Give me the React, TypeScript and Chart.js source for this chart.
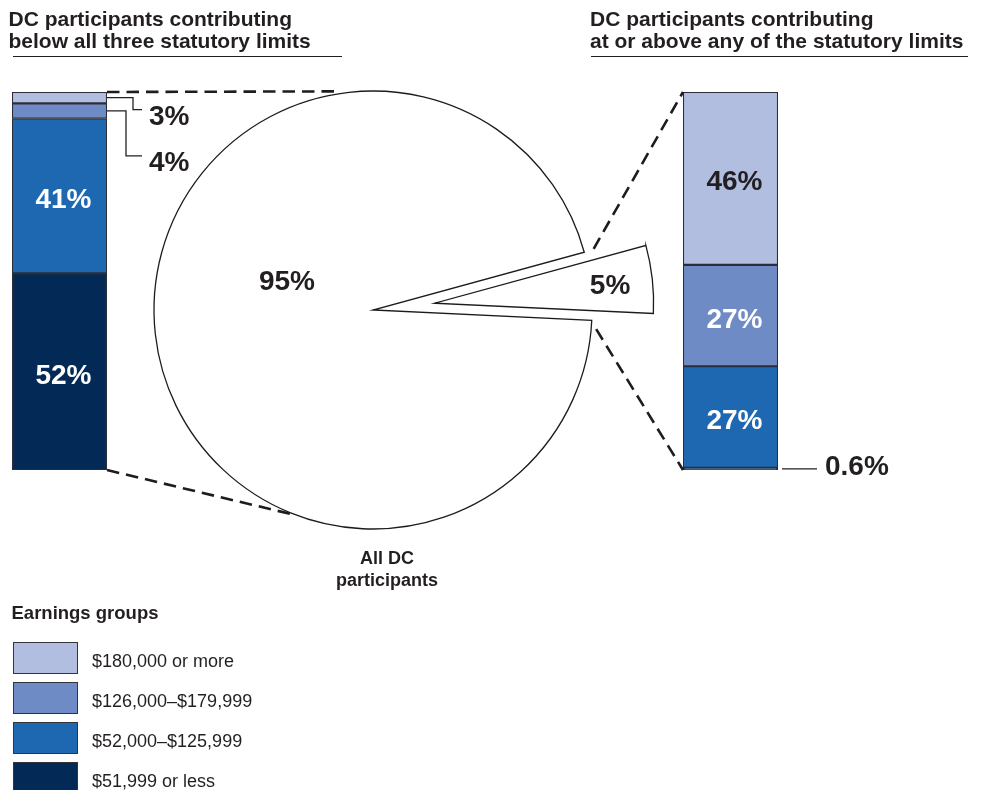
import React, { useEffect, useRef } from "react";
import { Chart, registerables } from "chart.js";

Chart.register(...registerables);

const W = 987;
const H = 790;

// Earnings groups, highest first (legend order)
const earningsGroups = ["$180,000 or more", "$126,000–$179,999", "$52,000–$125,999", "$51,999 or less"];
const groupColors = ["#b1bee0", "#6f8bc6", "#1e68b2", "#032a57"];

// Share of each earnings group (percent), same order as earningsGroups
const belowAllLimits = [3, 4, 41, 52];
const atOrAboveLimits = [46, 27, 27, 0.6];

// Split of all DC participants: at or above any limit, below all three limits
const participantGroups = ["At or above any of the statutory limits", "Below all three statutory limits"];
const participantShares = [5, 95];

const INK = "#231f20";
const FONT = '"Liberation Sans", Arial, Helvetica, sans-serif';
const DEG = Math.PI / 180;

// Plot geometry (page pixels)
const leftBarArea = { left: 12, right: 107, top: 92, bottom: 470 };
const rightBarArea = { left: 683, right: 778, top: 92, bottom: 470 };
const pieCenter = { x: 373, y: 310 };
const pieRadius = 219;
const pieRotation = 74.7;
const explodeDistance = 62;

type Callout = { elbow?: number; drop?: number };
const leftCallouts: Record<number, Callout> = { 0: { elbow: 26, drop: 12 }, 1: { elbow: 19, drop: 45 } };
const rightCallouts: Record<number, Callout> = { 3: {} };

function areaPadding(a: { left: number; right: number; top: number; bottom: number }) {
  return { left: a.left, top: a.top, right: W - a.right, bottom: H - a.bottom };
}

function centerPadding(cx: number, cy: number) {
  return { left: 0, top: 0, right: W - 2 * cx, bottom: H - 2 * cy };
}

function drawLabel(ctx: CanvasRenderingContext2D, text: string, x: number, capMid: number, size: number, color: string, align: CanvasTextAlign) {
  ctx.save();
  ctx.font = `bold ${size}px ${FONT}`;
  ctx.fillStyle = color;
  ctx.textAlign = align;
  ctx.textBaseline = "alphabetic";
  ctx.fillText(text, x, capMid + size * 0.358);
  ctx.restore();
}

function polar(cx: number, cy: number, angle: number, r: number) {
  return { x: cx + Math.cos(angle) * r, y: cy + Math.sin(angle) * r };
}

function barBounds(chart: Chart) {
  let top = Infinity, bottom = -Infinity, left = Infinity, right = -Infinity;
  chart.data.datasets.forEach((_, di) => {
    const el: any = chart.getDatasetMeta(di).data[0];
    const { x, y, base, width } = el.getProps(["x", "y", "base", "width"], true);
    top = Math.min(top, y, base);
    bottom = Math.max(bottom, y, base);
    left = Math.min(left, x - width / 2);
    right = Math.max(right, x + width / 2);
  });
  return { top, bottom, left, right };
}

function barLabelPlugin(callouts: Record<number, Callout>) {
  return {
    id: "barLabels",
    afterDatasetsDraw(chart: Chart) {
      const ctx = chart.ctx;
      chart.data.datasets.forEach((ds: any, di) => {
        const group: number = ds.groupIndex;
        const el: any = chart.getDatasetMeta(di).data[0];
        const { x, y, base, width } = el.getProps(["x", "y", "base", "width"], true);
        const cy = (Math.min(y, base) + Math.max(y, base)) / 2;
        const right = x + width / 2;
        const text = `${ds.data[0]}%`;
        const c = callouts[group];
        if (!c) {
          drawLabel(ctx, text, x + 4, cy + 2, 28, group === 0 ? INK : "#ffffff", "center");
          return;
        }
        ctx.save();
        ctx.strokeStyle = INK;
        ctx.lineWidth = 1.3;
        ctx.beginPath();
        if (c.elbow !== undefined) {
          const ex = right + c.elbow;
          const ty = cy + (c.drop || 0);
          ctx.moveTo(right, cy);
          ctx.lineTo(ex, cy);
          ctx.lineTo(ex, ty);
          ctx.lineTo(right + 35, ty);
          ctx.stroke();
          ctx.restore();
          drawLabel(ctx, text, right + 42, ty + 5, 28, INK, "left");
        } else {
          ctx.moveTo(right + 4, cy);
          ctx.lineTo(right + 39, cy);
          ctx.stroke();
          ctx.restore();
          drawLabel(ctx, text, right + 47, cy - 4, 28, INK, "left");
        }
      });
    },
  };
}

function barConfig(values: number[], area: any, callouts: Record<number, Callout>): any {
  const total = values.reduce((s, v) => s + v, 0);
  const datasets = earningsGroups
    .map((g, i) => ({
      label: g,
      groupIndex: i,
      data: [values[i]],
      backgroundColor: groupColors[i],
      borderColor: "#2b2e38",
      borderWidth: 1.4,
      borderSkipped: false,
      categoryPercentage: 1,
      barPercentage: 1,
      stack: "share",
    }))
    .reverse();
  return {
    type: "bar",
    data: { labels: [""], datasets },
    options: {
      responsive: false,
      animation: false,
      events: [],
      layout: { padding: areaPadding(area) },
      plugins: { legend: { display: false }, tooltip: { enabled: false } },
      scales: {
        x: { display: false, stacked: true },
        y: { display: false, stacked: true, min: 0, max: total },
      },
    },
    plugins: [barLabelPlugin(callouts)],
  };
}

function sliceAngles() {
  const total = participantShares.reduce((s, v) => s + v, 0);
  const start = (pieRotation - 90) * DEG;
  const span = (participantShares[0] / total) * 2 * Math.PI;
  return { start, end: start + span, mid: start + span / 2 };
}

function pieConfig(visibleIndex: number, center: { x: number; y: number }, extra: any[]): any {
  return {
    type: "pie",
    data: {
      labels: participantGroups,
      datasets: [
        {
          data: participantShares,
          backgroundColor: participantShares.map((_, i) => (i === visibleIndex ? "#ffffff" : "rgba(0,0,0,0)")),
          borderColor: participantShares.map((_, i) => (i === visibleIndex ? "#1c1c1c" : "rgba(0,0,0,0)")),
          borderWidth: participantShares.map((_, i) => (i === visibleIndex ? 1.3 : 0)),
          borderJoinStyle: "miter",
          borderAlign: "center",
          hoverOffset: 0,
        },
      ],
    },
    options: {
      responsive: false,
      animation: false,
      events: [],
      radius: pieRadius,
      rotation: pieRotation,
      layout: { padding: centerPadding(center.x, center.y) },
      plugins: { legend: { display: false }, tooltip: { enabled: false } },
    },
    plugins: extra,
  };
}

function mainPiePlugin(getBars: () => Chart[]) {
  return {
    id: "mainPie",
    afterDatasetsDraw(chart: Chart) {
      const ctx = chart.ctx;
      const meta = chart.getDatasetMeta(0);
      const slice: any = meta.data[0];
      const { x: cx, y: cy, startAngle, endAngle, outerRadius: r } = slice.getProps(
        ["x", "y", "startAngle", "endAngle", "outerRadius"],
        true
      );
      // share label of the larger slice
      drawLabel(ctx, `${participantShares[1]}%`, cx - 0.393 * r, cy - 0.137 * r, 28, INK, "center");

      // dashed connectors to the two breakdown bars
      const [leftBar, rightBar] = getBars();
      const lb = barBounds(leftBar);
      const rb = barBounds(rightBar);
      const segs = [
        [{ x: lb.right, y: lb.top }, polar(cx, cy, -100 * DEG, r + 3)],
        [{ x: lb.right, y: lb.bottom }, polar(cx, cy, 112 * DEG, r + 1)],
        [polar(cx, cy, startAngle - 0.2 * DEG, r + 10), { x: rb.left, y: rb.top }],
        [polar(cx, cy, endAngle + 2.2 * DEG, r + 5), { x: rb.left, y: rb.bottom }],
      ];
      ctx.save();
      ctx.setLineDash([12.5, 7]);
      ctx.lineWidth = 2.6;
      ctx.strokeStyle = "#1d1d1d";
      segs.forEach(([a, b]) => {
        ctx.beginPath();
        ctx.moveTo(a.x, a.y);
        ctx.lineTo(b.x, b.y);
        ctx.stroke();
      });
      ctx.restore();
    },
  };
}

const slicePlugin = {
  id: "sliceLabel",
  afterDatasetsDraw(chart: Chart) {
    const el: any = chart.getDatasetMeta(0).data[0];
    const { x, y, startAngle, endAngle, outerRadius } = el.getProps(
      ["x", "y", "startAngle", "endAngle", "outerRadius"],
      true
    );
    const p = polar(x, y, (startAngle + endAngle) / 2, outerRadius * 0.806);
    drawLabel(chart.ctx, `${participantShares[0]}%`, p.x, p.y, 28, INK, "center");
  },
};

const layer: React.CSSProperties = { position: "absolute", left: 0, top: 0 };

export default function App() {
  const leftRef = useRef<HTMLCanvasElement>(null);
  const rightRef = useRef<HTMLCanvasElement>(null);
  const pieRef = useRef<HTMLCanvasElement>(null);
  const sliceRef = useRef<HTMLCanvasElement>(null);

  useEffect(() => {
    const left = new Chart(leftRef.current!, barConfig(belowAllLimits, leftBarArea, leftCallouts));
    const right = new Chart(rightRef.current!, barConfig(atOrAboveLimits, rightBarArea, rightCallouts));
    const pie = new Chart(pieRef.current!, pieConfig(1, pieCenter, [mainPiePlugin(() => [left, right])]));
    const { mid } = sliceAngles();
    const exploded = {
      x: pieCenter.x + Math.cos(mid) * explodeDistance,
      y: pieCenter.y + Math.sin(mid) * explodeDistance,
    };
    const slice = new Chart(sliceRef.current!, pieConfig(0, exploded, [slicePlugin]));
    return () => {
      slice.destroy();
      pie.destroy();
      right.destroy();
      left.destroy();
    };
  }, []);

  const titleStyle: React.CSSProperties = {
    position: "absolute",
    top: 7.7,
    fontSize: 21,
    lineHeight: "22px",
    fontWeight: 700,
    whiteSpace: "nowrap",
  };
  const rule: React.CSSProperties = { position: "absolute", top: 56, height: 1, background: INK };

  return (
    <div
      style={{
        position: "absolute",
        left: 0,
        top: 0,
        width: W,
        height: H,
        overflow: "hidden",
        background: "#ffffff",
        color: INK,
        fontFamily: FONT,
      }}
    >
      <canvas ref={leftRef} width={W} height={H} style={layer} />
      <canvas ref={rightRef} width={W} height={H} style={layer} />
      <canvas ref={pieRef} width={W} height={H} style={layer} />
      <canvas ref={sliceRef} width={W} height={H} style={layer} />

      <div style={{ ...titleStyle, left: 8.5 }}>
        DC participants contributing
        <br />
        below all three statutory limits
      </div>
      <div style={{ ...rule, left: 13, width: 329 }} />
      <div style={{ ...titleStyle, left: 590 }}>
        DC participants contributing
        <br />
        at or above any of the statutory limits
      </div>
      <div style={{ ...rule, left: 591, width: 377 }} />

      <div
        style={{
          position: "absolute",
          left: 287,
          top: 546.8,
          width: 200,
          textAlign: "center",
          fontSize: 18,
          lineHeight: "22px",
          fontWeight: 700,
        }}
      >
        All DC
        <br />
        participants
      </div>

      <div style={{ position: "absolute", left: 11.5, top: 603, fontSize: 18.5, lineHeight: "20px", fontWeight: 700 }}>
        Earnings groups
      </div>
      {earningsGroups.map((g, i) => (
        <React.Fragment key={g}>
          <div
            style={{
              position: "absolute",
              left: 12.5,
              top: 641.5 + 40 * i,
              width: 65,
              height: 32,
              boxSizing: "border-box",
              border: "1.5px solid #33353d",
              background: groupColors[i],
            }}
          />
          <div
            style={{
              position: "absolute",
              left: 92,
              top: 651.1 + 40 * i,
              fontSize: 18,
              lineHeight: "20px",
              whiteSpace: "nowrap",
            }}
          >
            {g}
          </div>
        </React.Fragment>
      ))}
    </div>
  );
}
